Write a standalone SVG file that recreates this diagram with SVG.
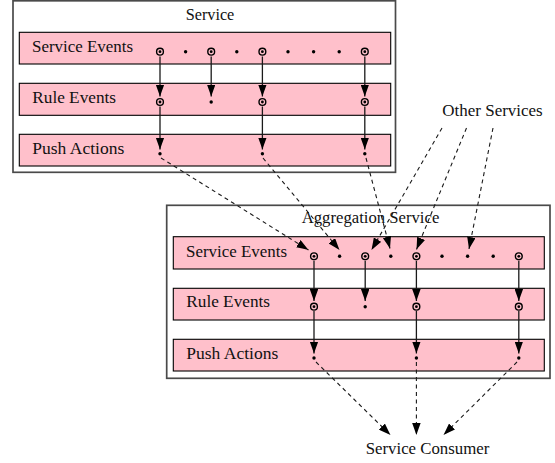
<svg xmlns="http://www.w3.org/2000/svg" width="555" height="463" viewBox="0 0 555 463">
  <style>
    .frame { fill: #ffffff; stroke: #4a4a4a; stroke-width: 1.7; }
    .row { fill: #ffc0cb; stroke: #000000; stroke-width: 1.1; }
    .lbl { font-family: "Liberation Serif", "Times New Roman", serif; font-size: 16.5px; fill: #111111; }
    .ring { fill: none; stroke: #000000; stroke-width: 1.4; }
    .dot { fill: #000000; }
    .flow { stroke: #1a1a1a; stroke-width: 1.3; fill: none; marker-end: url(#tip); }
    .dash { stroke: #1a1a1a; stroke-width: 1.1; fill: none; stroke-dasharray: 4 3.5; marker-end: url(#tip); }
  </style>
  <defs>
    <marker id="tip" markerUnits="userSpaceOnUse" viewBox="0 0 12 8.5" refX="12" refY="4.25" markerWidth="12" markerHeight="8.5" orient="auto">
      <path d="M0,0 Q6,2.2 12,4.25 Q6,6.3 0,8.5 z" fill="#000000"/>
    </marker>
    <!-- circled event marker -->
    <g id="ev">
      <circle r="3.4" class="ring"/>
      <circle r="1.4" class="dot"/>
    </g>
  </defs>

  <rect width="555" height="463" fill="#ffffff"/>

  <!-- Service -->
  <g id="service">
    <rect class="frame" x="13" y="0.8" width="382.5" height="171.5"/>
    <text class="lbl" x="185.7" y="19.5" textLength="48.6" lengthAdjust="spacingAndGlyphs">Service</text>
    <g id="service-events">
      <rect class="row" x="19.3" y="32.3" width="371.4" height="31.7"/>
      <text class="lbl" x="32" y="52" textLength="101" lengthAdjust="spacingAndGlyphs">Service Events</text>
      <use href="#ev" x="160" y="51.7"/>
      <circle class="dot" cx="185.6" cy="51.7" r="1.7"/>
      <use href="#ev" x="211.2" y="51.7"/>
      <circle class="dot" cx="236.8" cy="51.7" r="1.7"/>
      <use href="#ev" x="262.4" y="51.7"/>
      <circle class="dot" cx="288" cy="51.7" r="1.7"/>
      <circle class="dot" cx="313.6" cy="51.7" r="1.7"/>
      <circle class="dot" cx="339.2" cy="51.7" r="1.7"/>
      <use href="#ev" x="364.8" y="51.7"/>
    </g>
    <g id="service-rules">
      <rect class="row" x="19.3" y="83.3" width="371.4" height="32"/>
      <text class="lbl" x="32.3" y="102.5" textLength="83.7" lengthAdjust="spacingAndGlyphs">Rule Events</text>
      <use href="#ev" x="160" y="102"/>
      <circle class="dot" cx="211.2" cy="102" r="1.7"/>
      <use href="#ev" x="262.4" y="102"/>
      <use href="#ev" x="364.8" y="102"/>
    </g>
    <g id="service-actions">
      <rect class="row" x="19.3" y="134.3" width="371.4" height="31.7"/>
      <text class="lbl" x="32.3" y="154" textLength="92" lengthAdjust="spacingAndGlyphs">Push Actions</text>
      <circle class="dot" cx="160" cy="153.7" r="1.7"/>
      <circle class="dot" cx="262.4" cy="153.7" r="1.7"/>
      <circle class="dot" cx="364.8" cy="153.7" r="1.7"/>
    </g>
  </g>

  <!-- Aggregation Service -->
  <g id="aggregation">
    <rect class="frame" x="166.7" y="205.3" width="383.3" height="173"/>
    <text class="lbl" x="301.7" y="223" textLength="137.6" lengthAdjust="spacingAndGlyphs">Aggregation Service</text>
    <g id="agg-events">
      <rect class="row" x="173.3" y="236.7" width="371" height="32.3"/>
      <text class="lbl" x="186" y="256.5" textLength="101" lengthAdjust="spacingAndGlyphs">Service Events</text>
      <use href="#ev" x="314" y="256.3"/>
      <circle class="dot" cx="339.6" cy="256.3" r="1.7"/>
      <use href="#ev" x="365.2" y="256.3"/>
      <circle class="dot" cx="390.8" cy="256.3" r="1.7"/>
      <use href="#ev" x="416.4" y="256.3"/>
      <circle class="dot" cx="442" cy="256.3" r="1.7"/>
      <circle class="dot" cx="467.6" cy="256.3" r="1.7"/>
      <circle class="dot" cx="493.2" cy="256.3" r="1.7"/>
      <use href="#ev" x="518.8" y="256.3"/>
    </g>
    <g id="agg-rules">
      <rect class="row" x="173.3" y="288.3" width="371" height="31.7"/>
      <text class="lbl" x="186.3" y="307" textLength="83.7" lengthAdjust="spacingAndGlyphs">Rule Events</text>
      <use href="#ev" x="314" y="306.7"/>
      <circle class="dot" cx="365.2" cy="306.7" r="1.7"/>
      <use href="#ev" x="416.4" y="306.7"/>
      <use href="#ev" x="518.8" y="306.7"/>
    </g>
    <g id="agg-actions">
      <rect class="row" x="173.3" y="339.3" width="371" height="31.7"/>
      <text class="lbl" x="186.3" y="358.5" textLength="92" lengthAdjust="spacingAndGlyphs">Push Actions</text>
      <circle class="dot" cx="314" cy="358" r="1.7"/>
      <circle class="dot" cx="416.4" cy="358" r="1.7"/>
      <circle class="dot" cx="518.8" cy="358" r="1.7"/>
    </g>
  </g>

  <g id="other-services">
    <text class="lbl" x="442.3" y="116" textLength="100.4" lengthAdjust="spacingAndGlyphs">Other Services</text>
  </g>

  <g id="service-consumer">
    <text class="lbl" x="365.7" y="454.3" textLength="123.6" lengthAdjust="spacingAndGlyphs">Service Consumer</text>
  </g>

  <!-- connectors -->
  <g id="connectors">
    <!-- Service: events -> rules -> actions -->
    <line class="flow" x1="160" y1="56.5" x2="160" y2="96.5"/>
    <line class="flow" x1="211.2" y1="56.5" x2="211.2" y2="96.5"/>
    <line class="flow" x1="262.4" y1="56.5" x2="262.4" y2="96.5"/>
    <line class="flow" x1="364.8" y1="56.5" x2="364.8" y2="96.5"/>
    <line class="flow" x1="160" y1="106.5" x2="160" y2="149.5"/>
    <line class="flow" x1="262.4" y1="106.5" x2="262.4" y2="149.5"/>
    <line class="flow" x1="364.8" y1="106.5" x2="364.8" y2="149.5"/>

    <!-- Aggregation Service: events -> rules -> actions -->
    <line class="flow" x1="314" y1="261" x2="314" y2="301"/>
    <line class="flow" x1="365.2" y1="261" x2="365.2" y2="301"/>
    <line class="flow" x1="416.4" y1="261" x2="416.4" y2="301"/>
    <line class="flow" x1="518.8" y1="261" x2="518.8" y2="301"/>
    <line class="flow" x1="314" y1="311" x2="314" y2="353.5"/>
    <line class="flow" x1="416.4" y1="311" x2="416.4" y2="353.5"/>
    <line class="flow" x1="518.8" y1="311" x2="518.8" y2="353.5"/>

    <!-- Service actions -> Aggregation events -->
    <line class="dash" x1="161" y1="158" x2="308.5" y2="250"/>
    <line class="dash" x1="263" y1="158" x2="339.5" y2="250"/>
    <line class="dash" x1="366" y1="158" x2="390" y2="248.5"/>

    <!-- Other Services -> Aggregation events -->
    <line class="dash" x1="442" y1="128" x2="371.5" y2="250"/>
    <line class="dash" x1="466.5" y1="128" x2="416.5" y2="249.5"/>
    <line class="dash" x1="493" y1="128" x2="469" y2="249"/>

    <!-- Aggregation actions -> Service Consumer -->
    <line class="dash" x1="316" y1="362" x2="390.5" y2="435"/>
    <line class="dash" x1="416.4" y1="362" x2="416.4" y2="435"/>
    <line class="dash" x1="517" y1="362" x2="443.5" y2="435"/>
  </g>
</svg>
